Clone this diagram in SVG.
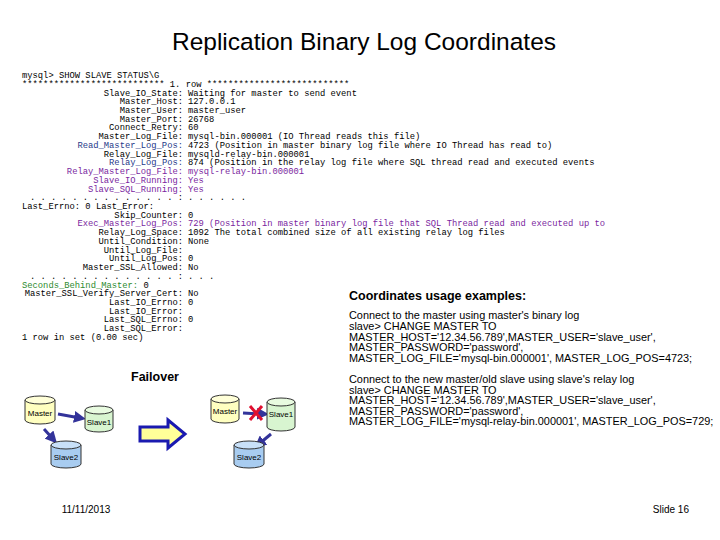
<svg xmlns="http://www.w3.org/2000/svg" width="720" height="540" viewBox="0 0 720 540">
<style>
.m{font-family:"Liberation Mono",monospace;font-size:8.8px;fill:#000}
.e{text-anchor:end}
.b{fill:#1f3a8a}.p{fill:#7a1fa0}.g{fill:#2e8b2e}
.s{font-family:"Liberation Sans",Arial,sans-serif;font-size:10.9px;fill:#000}
.lbl{font-family:"Liberation Sans",Arial,sans-serif;font-size:8px;fill:#000;text-anchor:middle}
.cy{stroke:#333;stroke-width:1}
.ar{stroke:#33339a;stroke-width:3;marker-end:url(#ah)}
</style>
<defs>
<marker id="ah" markerWidth="4" markerHeight="4" refX="2" refY="2" orient="auto"><path d="M0,0L4,2L0,4z" fill="#33339a"/></marker>
</defs>
<rect width="720" height="540" fill="#fff"/>
<text x="364" y="50" text-anchor="middle" font-family="Liberation Sans,Arial,sans-serif" font-size="24.5">Replication Binary Log Coordinates</text>
<g id="status">
<text class="m" x="22" y="78">mysql&gt; SHOW SLAVE STATUS\G</text>
<text class="m" x="22" y="86.7">*************************** 1. row ***************************</text>
<g class="m e">
<text x="183" y="95.5">Slave_IO_State:</text>
<text x="183" y="104.2">Master_Host:</text>
<text x="183" y="112.9">Master_User:</text>
<text x="183" y="121.6">Master_Port:</text>
<text x="183" y="130.4">Connect_Retry:</text>
<text x="183" y="139.1">Master_Log_File:</text>
<text x="183" y="147.8" class="b">Read_Master_Log_Pos:</text>
<text x="183" y="156.6">Relay_Log_File:</text>
<text x="183" y="165.3" class="b">Relay_Log_Pos:</text>
<text x="183" y="174" class="p">Relay_Master_Log_File:</text>
<text x="183" y="182.7" class="p">Slave_IO_Running:</text>
<text x="183" y="191.5" class="p">Slave_SQL_Running:</text>
<text x="183" y="200.2">. . . . . . . . . . . . . . :</text>
<text x="183" y="217.6">Skip_Counter:</text>
<text x="183" y="226.4" class="p">Exec_Master_Log_Pos:</text>
<text x="183" y="235.1">Relay_Log_Space:</text>
<text x="183" y="243.8">Until_Condition:</text>
<text x="183" y="252.5">Until_Log_File:</text>
<text x="183" y="261.3">Until_Log_Pos:</text>
<text x="183" y="270">Master_SSL_Allowed:</text>
<text x="183" y="278.7">. . . . . . . . . . . . . . :</text>
<text x="183" y="296.2">Master_SSL_Verify_Server_Cert:</text>
<text x="183" y="304.9">Last_IO_Errno:</text>
<text x="183" y="313.6">Last_IO_Error:</text>
<text x="183" y="322.3">Last_SQL_Errno:</text>
<text x="183" y="331.1">Last_SQL_Error:</text>
</g>
<g class="m">
<text x="188" y="95.5">Waiting for master to send event</text>
<text x="188" y="104.2">127.0.0.1</text>
<text x="188" y="112.9">master_user</text>
<text x="188" y="121.6">26768</text>
<text x="188" y="130.4">60</text>
<text x="188" y="139.1">mysql-bin.000001 (IO Thread reads this file)</text>
<text x="188" y="147.8">4723 (Position in master binary log file where IO Thread has read to)</text>
<text x="188" y="156.6">mysqld-relay-bin.000001</text>
<text x="188" y="165.3">874  (Position in the relay log file where SQL thread read and executed events</text>
<text x="188" y="174" class="p">mysql-relay-bin.000001</text>
<text x="188" y="182.7" class="p">Yes</text>
<text x="188" y="191.5" class="p">Yes</text>
<text x="188" y="200.2">. . . . . .</text>
<text x="22" y="208.9">Last_Errno: 0 Last_Error:</text>
<text x="188" y="217.6">0</text>
<text x="188" y="226.4" class="p">729   (Position in master binary log file that SQL Thread read and executed up to</text>
<text x="188" y="235.1">1092 The total combined size of all existing relay log files</text>
<text x="188" y="243.8">None</text>
<text x="188" y="261.3">0</text>
<text x="188" y="270">No</text>
<text x="188" y="278.7">. . .</text>
<text x="22" y="287.5"><tspan class="g">Seconds_Behind_Master:</tspan> 0</text>
<text x="188" y="296.2">No</text>
<text x="188" y="304.9">0</text>
<text x="188" y="322.3">0</text>
<text x="22" y="339.8">1 row in set (0.00 sec)</text>
</g>
</g>
<g id="examples">
<text x="349" y="300" font-family="Liberation Sans,Arial,sans-serif" font-size="12.5" font-weight="bold">Coordinates usage examples:</text>
<text class="s" x="349" y="319">Connect to the master using master's binary log</text>
<text class="s" x="349" y="330">slave&gt; CHANGE MASTER TO</text>
<text class="s" x="349" y="340.5">MASTER_HOST='12.34.56.789',MASTER_USER='slave_user',</text>
<text class="s" x="349" y="351">MASTER_PASSWORD='password',</text>
<text class="s b" x="349" y="361.5">MASTER_LOG_FILE='mysql-bin.000001', MASTER_LOG_POS=4723;</text>
<text class="s" x="349" y="383">Connect to the new master/old slave using slave's relay log</text>
<text class="s" x="349" y="393.5">slave&gt; CHANGE MASTER TO</text>
<text class="s" x="349" y="404">MASTER_HOST='12.34.56.789',MASTER_USER='slave_user',</text>
<text class="s" x="349" y="414.5">MASTER_PASSWORD='password',</text>
<text class="s p" x="349" y="425">MASTER_LOG_FILE='mysql-relay-bin.000001', MASTER_LOG_POS=729;</text>
</g>
<text x="155" y="381" text-anchor="middle" font-family="Liberation Sans,Arial,sans-serif" font-size="12.5" font-weight="bold">Failover</text>
<g id="connectors">
<line class="ar" x1="58" y1="414" x2="80" y2="418"/>
<line class="ar" x1="44" y1="429" x2="53" y2="439"/>
<line class="ar" x1="243" y1="413" x2="263" y2="414"/>
<line class="ar" x1="271" y1="434" x2="259" y2="444"/>
<path d="M140,427H168V420L185,434L168,448V441H140Z" fill="#ffff99" stroke="#1a1ab0" stroke-width="3"/>
<path d="M250,406L262,420M262,406L250,420" stroke="#e01030" stroke-width="3"/>
</g>
<g id="left-master"><path class="cy" d="M25,400V420A15,4 0 0 0 55,420V400" fill="#ffffc0"/><ellipse class="cy" cx="40" cy="400" rx="15" ry="4" fill="#ffffd8"/><text class="lbl" x="40" y="416">Master</text></g>
<g id="left-slave1"><path class="cy" d="M85,410V428A14,4 0 0 0 113,428V410" fill="#d8f5d0"/><ellipse class="cy" cx="99" cy="410" rx="14" ry="4" fill="#e8fbe0"/><text class="lbl" x="99" y="425">Slave1</text></g>
<g id="left-slave2"><path class="cy" d="M51,445V464A15,4 0 0 0 81,464V445" fill="#a8ccf0"/><ellipse class="cy" cx="66" cy="445" rx="15" ry="4" fill="#c8e0f8"/><text class="lbl" x="66" y="460">Slave2</text></g>
<g id="right-master"><path class="cy" d="M211,399V419A14,4 0 0 0 239,419V399" fill="#ffffc0"/><ellipse class="cy" cx="225" cy="399" rx="14" ry="4" fill="#ffffd8"/><text class="lbl" x="225" y="414">Master</text></g>
<g id="right-slave1"><path class="cy" d="M267,402V427A14,4 0 0 0 295,427V402" fill="#d8f5d0"/><ellipse class="cy" cx="281" cy="402" rx="14" ry="4" fill="#e8fbe0"/><text class="lbl" x="281" y="417">Slave1</text></g>
<g id="right-slave2"><path class="cy" d="M234,445V464A15,4 0 0 0 264,464V445" fill="#a8ccf0"/><ellipse class="cy" cx="249" cy="445" rx="15" ry="4" fill="#c8e0f8"/><text class="lbl" x="249" y="460">Slave2</text></g>
<text x="86" y="513" text-anchor="middle" font-family="Liberation Sans,Arial,sans-serif" font-size="10">11/11/2013</text>
<text x="689" y="513" text-anchor="end" font-family="Liberation Sans,Arial,sans-serif" font-size="10">Slide 16</text>
</svg>
